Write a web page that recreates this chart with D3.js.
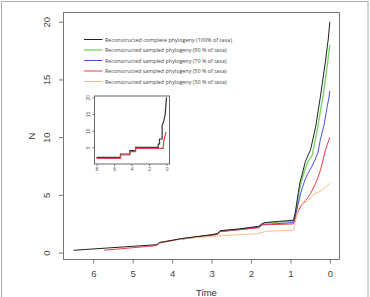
<!DOCTYPE html>
<html><head><meta charset="utf-8">
<script src="https://cdn.jsdelivr.net/npm/d3@7"></script>
<style>body{margin:0;background:#fff}svg{display:block;font-family:"Liberation Sans",Arial,sans-serif}</style>
</head><body><svg id="c" width="370" height="297"></svg>
<script>
// ---- data ----
const xTicks = [6,5,4,3,2,1,0];
const yTicks = [0,5,10,15,20];
const seriesNames = [
  "Reconstructed complete phylogeny (100% of taxa)",
  "Reconstructed sampled phylogeny (90 % of taxa)",
  "Reconstructed sampled phylogeny (70 % of taxa)",
  "Reconstructed sampled phylogeny (50 % of taxa)",
  "Reconstructed sampled phylogeny (30 % of taxa)"
];
const seriesColors = ["#222222","#7fd46a","#4a4ae6","#e8404a","#f9bf80"];
const complete100 = [[6.5,0.2],[4.4,0.68],[4.32,0.88],[4.2,0.95],[3.75,1.22],[3.0,1.55],[2.85,1.65],[2.78,1.9],[2.3,2.05],[1.8,2.28],[1.72,2.5],[1.65,2.6],[1.3,2.7],[0.92,2.8],[0.87,3.6],[0.8,5.2],[0.75,6.2],[0.7,6.8],[0.62,7.9],[0.49,8.9],[0.36,10.9],[0.24,13.5],[0.11,16.6],[0.04,18.5],[0,20]];
const sampled90 = [[3.75,1.18],[3.0,1.5],[2.85,1.6],[2.78,1.85],[2.3,2.0],[1.8,2.22],[1.72,2.45],[1.65,2.55],[1.3,2.65],[0.92,2.7],[0.87,3.3],[0.8,4.8],[0.75,5.8],[0.7,6.4],[0.62,7.3],[0.55,7.9],[0.45,8.4],[0.32,10.6],[0.17,13.6],[0.08,15.8],[0,18]];
const sampled70 = [[3.75,1.18],[2.85,1.58],[2.78,1.83],[1.8,2.2],[1.72,2.42],[0.92,2.6],[0.85,3.5],[0.75,5.0],[0.7,5.6],[0.62,6.4],[0.55,6.9],[0.45,7.5],[0.38,8.0],[0.3,8.7],[0.24,9.8],[0.15,11],[0.07,12.6],[0.03,13.3],[0,14]];
const sampled50 = [[5.73,0.2],[4.4,0.6],[4.32,0.83],[4.2,0.9],[3.75,1.2],[2.85,1.58],[2.78,1.82],[1.8,2.15],[1.72,2.4],[0.92,2.48],[0.85,3.2],[0.74,4.0],[0.62,4.5],[0.49,5.1],[0.36,6.0],[0.24,7.1],[0.11,8.9],[0,10]];
const sampled30 = [[3.83,1.2],[2.6,1.5],[1.84,1.64],[1.6,1.85],[0.92,1.93],[0.88,2.6],[0.8,3.8],[0.74,4.1],[0.6,4.4],[0.49,4.7],[0.4,5.1],[0.24,5.3],[0.1,5.7],[0,6]];
// inset
const insetXTicks = [8,6,4,2,0];
const insetYTicks = [5,10,15,20];
const insetComplete = [[8,2],[5.26,2],[5.26,3],[4.2,3],[4.2,4],[3.54,4],[3.54,5],[0.95,5],[0.95,6],[0.8,6],[0.8,7.5],[0.5,7.5],[0.5,11.5],[0.3,13],[0.15,15],[0,20]];
const insetSampled50 = [[8,1.7],[5.26,1.7],[5.26,2.7],[4.2,2.7],[4.2,3.7],[3.54,3.7],[3.54,4.7],[0.38,4.7],[0.3,7],[0.1,9.2],[0,9.5]];

// ---- drawing ----
const svg = d3.select("#c");
svg.append("rect").attr("x",1.5).attr("y",1.5).attr("width",366.5).attr("height",300)
  .attr("fill","none").attr("stroke","#aaa").attr("stroke-width",1);

const L=63.5, R=339.5, T=12.5, B=259.5;
const x = d3.scaleLinear().domain([6.755,-0.245]).range([L,R]);
const y = d3.scaleLinear().domain([-0.6,20.8]).range([B,T]);
const grey="#555";

svg.append("rect").attr("x",L).attr("y",T).attr("width",R-L).attr("height",B-T)
  .attr("fill","none").attr("stroke","#777").attr("stroke-width",1);

const xa = svg.append("g").attr("transform",`translate(0,${B})`)
  .call(d3.axisBottom(x).tickValues(xTicks).tickSize(4).tickPadding(7).tickFormat(d3.format("d")));
xa.select(".domain").remove();
xa.selectAll("line").attr("stroke","#777");
xa.selectAll("text").attr("font-size",9.5).attr("fill","#444").attr("font-family","Liberation Sans, Arial, sans-serif");

const ya = svg.append("g").attr("transform",`translate(${L},0)`)
  .call(d3.axisLeft(y).tickValues(yTicks).tickSize(4.5).tickFormat(d3.format("d")));
ya.select(".domain").remove();
ya.selectAll("line").attr("stroke","#777");
ya.selectAll("text").remove();
ya.selectAll(".tick").append("text").attr("transform","translate(-14,0) rotate(-90)")
  .attr("text-anchor","middle").attr("font-size",9.5).attr("fill","#444").text(d=>d);

svg.append("text").attr("x",(L+R)/2+5).attr("y",296).attr("text-anchor","middle")
  .attr("font-size",9.5).attr("fill","#333").text("Time");
svg.append("text").attr("transform",`translate(35,${(T+B)/2}) rotate(-90)`).attr("text-anchor","middle")
  .attr("font-size",9.5).attr("fill","#333").text("N");

const line = d3.line().x(d=>x(d[0])).y(d=>y(d[1]));
const allSeries=[complete100,sampled90,sampled70,sampled50,sampled30];
const widths=[1,1.4,1,1,1];
const drawOrder=[1,2,3,4,0];
drawOrder.forEach(i=>{
  svg.append("path").datum(allSeries[i]).attr("d",line).attr("fill","none")
    .attr("stroke",seriesColors[i]).attr("stroke-width",widths[i]).attr("stroke-linejoin","round");
});

// legend
const lg = svg.append("g");
seriesNames.forEach((n,i)=>{
  const yy = 39.5 + i*10.5;
  lg.append("line").attr("x1",84).attr("x2",102.5).attr("y1",yy).attr("y2",yy)
    .attr("stroke",seriesColors[i]).attr("stroke-width",widths[i]);
  lg.append("text").attr("x",105).attr("y",yy+2).attr("font-size",5.6).attr("fill","#444")
    .attr("font-family","Open Sans, sans-serif").text(n)
    .attr("textLength", i===0?127:121.5).attr("lengthAdjust","spacingAndGlyphs");
});

// inset
const iL=94.5, iR=169.5, iT=96, iB=164;
const ix = d3.scaleLinear().domain([8.23,-0.34]).range([iL,iR]);
const iy = d3.scaleLinear().domain([0,20.4]).range([iB,iT]);
svg.append("rect").attr("x",iL).attr("y",iT).attr("width",iR-iL).attr("height",iB-iT)
  .attr("fill","none").attr("stroke","#666").attr("stroke-width",1);
const ixa = svg.append("g").attr("transform",`translate(0,${iB})`)
  .call(d3.axisBottom(ix).tickValues(insetXTicks).tickSize(2).tickPadding(1.5).tickFormat(d3.format("d")));
ixa.select(".domain").remove();
ixa.selectAll("line").attr("stroke","#777");
ixa.selectAll("text").attr("font-size",5).attr("fill","#555");
const iya = svg.append("g").attr("transform",`translate(${iL},0)`)
  .call(d3.axisLeft(iy).tickValues(insetYTicks).tickSize(2).tickFormat(d3.format("d")));
iya.select(".domain").remove();
iya.selectAll("line").attr("stroke","#777");
iya.selectAll("text").remove();
iya.selectAll(".tick").append("text").attr("transform","translate(-5,0) rotate(-90)")
  .attr("text-anchor","middle").attr("font-size",5).attr("fill","#555").text(d=>d);
const iline = d3.line().x(d=>ix(d[0])).y(d=>iy(d[1]));
svg.append("path").datum(insetComplete).attr("d",iline).attr("fill","none").attr("stroke","#333").attr("stroke-width",1.2);
svg.append("path").datum(insetSampled50).attr("d",iline).attr("fill","none").attr("stroke","#e8404a").attr("stroke-width",1.2);
</script></body></html>
